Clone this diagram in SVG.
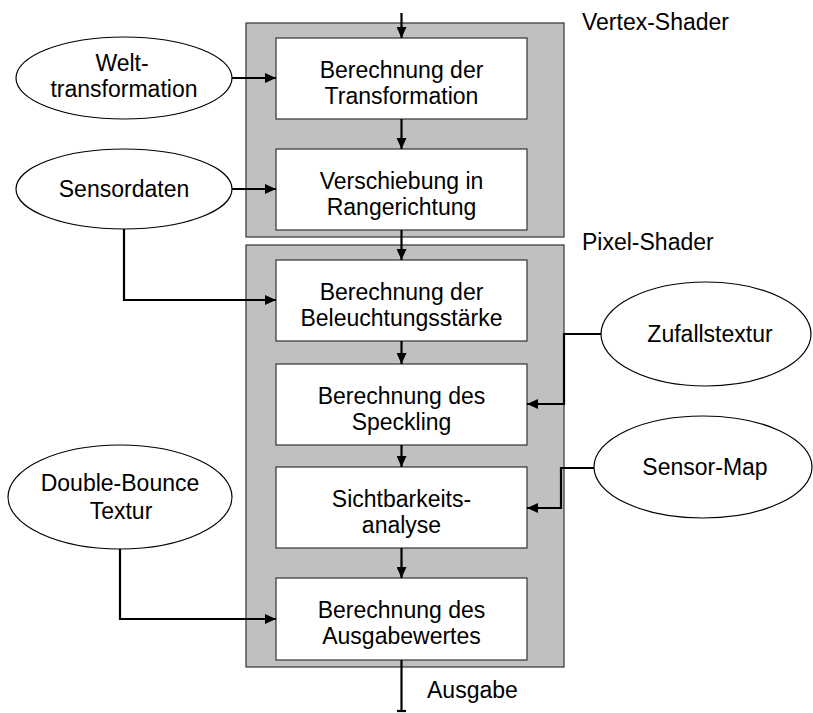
<svg xmlns="http://www.w3.org/2000/svg" width="813" height="713" viewBox="0 0 813 713">
  <style>
    .stage { fill: #c0c0c0; stroke: #333333; stroke-width: 1.2; }
    .step { fill: #ffffff; stroke: #333333; stroke-width: 1.2; }
    .input { fill: #ffffff; stroke: #000000; stroke-width: 1.2; }
    .wire { fill: none; stroke: #000000; stroke-width: 2.2; }
    text { font-family: "Liberation Sans", Arial, sans-serif; font-size: 23px; fill: #000000; }
    .c { text-anchor: middle; }
  </style>
  <defs>
    <marker id="arrow" markerUnits="userSpaceOnUse" markerWidth="11" markerHeight="10" refX="11" refY="5" orient="auto">
      <path d="M0,0 L11,5 L0,10 z" fill="#000000"/>
    </marker>
  </defs>

  <rect width="813" height="713" fill="#ffffff"/>

  <!-- shader stages -->
  <g id="vertex-shader">
    <rect class="stage" x="246" y="23" width="318" height="214"/>
    <text x="582" y="30">Vertex-Shader</text>
  </g>
  <g id="pixel-shader">
    <rect class="stage" x="246" y="245" width="318" height="422"/>
    <text x="582" y="250">Pixel-Shader</text>
  </g>

  <!-- processing steps -->
  <g id="step-transformation">
    <rect class="step" x="276" y="38" width="251" height="81"/>
    <text class="c" x="401.5" y="78">Berechnung der</text>
    <text class="c" x="401.5" y="104">Transformation</text>
  </g>
  <g id="step-range">
    <rect class="step" x="276" y="149" width="251" height="81"/>
    <text class="c" x="401.5" y="189">Verschiebung in</text>
    <text class="c" x="401.5" y="215">Rangerichtung</text>
  </g>
  <g id="step-illumination">
    <rect class="step" x="276" y="260" width="251" height="81"/>
    <text class="c" x="401.5" y="300">Berechnung der</text>
    <text class="c" x="401.5" y="326">Beleuchtungsstärke</text>
  </g>
  <g id="step-speckle">
    <rect class="step" x="276" y="364" width="251" height="81"/>
    <text class="c" x="401.5" y="404">Berechnung des</text>
    <text class="c" x="401.5" y="430">Speckling</text>
  </g>
  <g id="step-visibility">
    <rect class="step" x="276" y="467" width="251" height="81"/>
    <text class="c" x="401.5" y="507">Sichtbarkeits-</text>
    <text class="c" x="401.5" y="533">analyse</text>
  </g>
  <g id="step-output">
    <rect class="step" x="276" y="578" width="251" height="82"/>
    <text class="c" x="401.5" y="618">Berechnung des</text>
    <text class="c" x="401.5" y="644">Ausgabewertes</text>
  </g>

  <!-- inputs -->
  <g id="in-world">
    <ellipse class="input" cx="124" cy="78" rx="108" ry="41"/>
    <text class="c" x="122" y="71">Welt-</text>
    <text class="c" x="124" y="97">transformation</text>
  </g>
  <g id="in-sensordata">
    <ellipse class="input" cx="124" cy="189" rx="108" ry="40"/>
    <text class="c" x="124" y="197">Sensordaten</text>
  </g>
  <g id="in-random">
    <ellipse class="input" cx="706" cy="334" rx="105" ry="52"/>
    <text class="c" x="710" y="342">Zufallstextur</text>
  </g>
  <g id="in-sensormap">
    <ellipse class="input" cx="703" cy="467" rx="109" ry="51"/>
    <text class="c" x="705" y="475">Sensor-Map</text>
  </g>
  <g id="in-doublebounce">
    <ellipse class="input" cx="120" cy="497" rx="112" ry="52"/>
    <text class="c" x="120" y="491">Double-Bounce</text>
    <text class="c" x="121" y="519">Textur</text>
  </g>

  <!-- connectors -->
  <g id="connectors">
    <line class="wire" x1="401.5" y1="13" x2="401.5" y2="38" marker-end="url(#arrow)"/>
    <line class="wire" x1="401.5" y1="119" x2="401.5" y2="149" marker-end="url(#arrow)"/>
    <line class="wire" x1="401.5" y1="230" x2="401.5" y2="260" marker-end="url(#arrow)"/>
    <line class="wire" x1="401.5" y1="341" x2="401.5" y2="364" marker-end="url(#arrow)"/>
    <line class="wire" x1="401.5" y1="445" x2="401.5" y2="467" marker-end="url(#arrow)"/>
    <line class="wire" x1="401.5" y1="548" x2="401.5" y2="578" marker-end="url(#arrow)"/>
    <line class="wire" x1="232" y1="78" x2="276" y2="78" marker-end="url(#arrow)"/>
    <line class="wire" x1="232" y1="189" x2="276" y2="189" marker-end="url(#arrow)"/>
    <polyline class="wire" points="124,229 124,300 276,300" marker-end="url(#arrow)"/>
    <polyline class="wire" points="601,334 564,334 564,404 527,404" marker-end="url(#arrow)"/>
    <polyline class="wire" points="594,468 561,468 561,508 527,508" marker-end="url(#arrow)"/>
    <polyline class="wire" points="120,549 120,619 276,619" marker-end="url(#arrow)"/>
    <line class="wire" x1="401.5" y1="660" x2="401.5" y2="712"/>
    <line class="wire" x1="397" y1="711" x2="406" y2="711"/>
  </g>
  <text x="427" y="698">Ausgabe</text>
</svg>
